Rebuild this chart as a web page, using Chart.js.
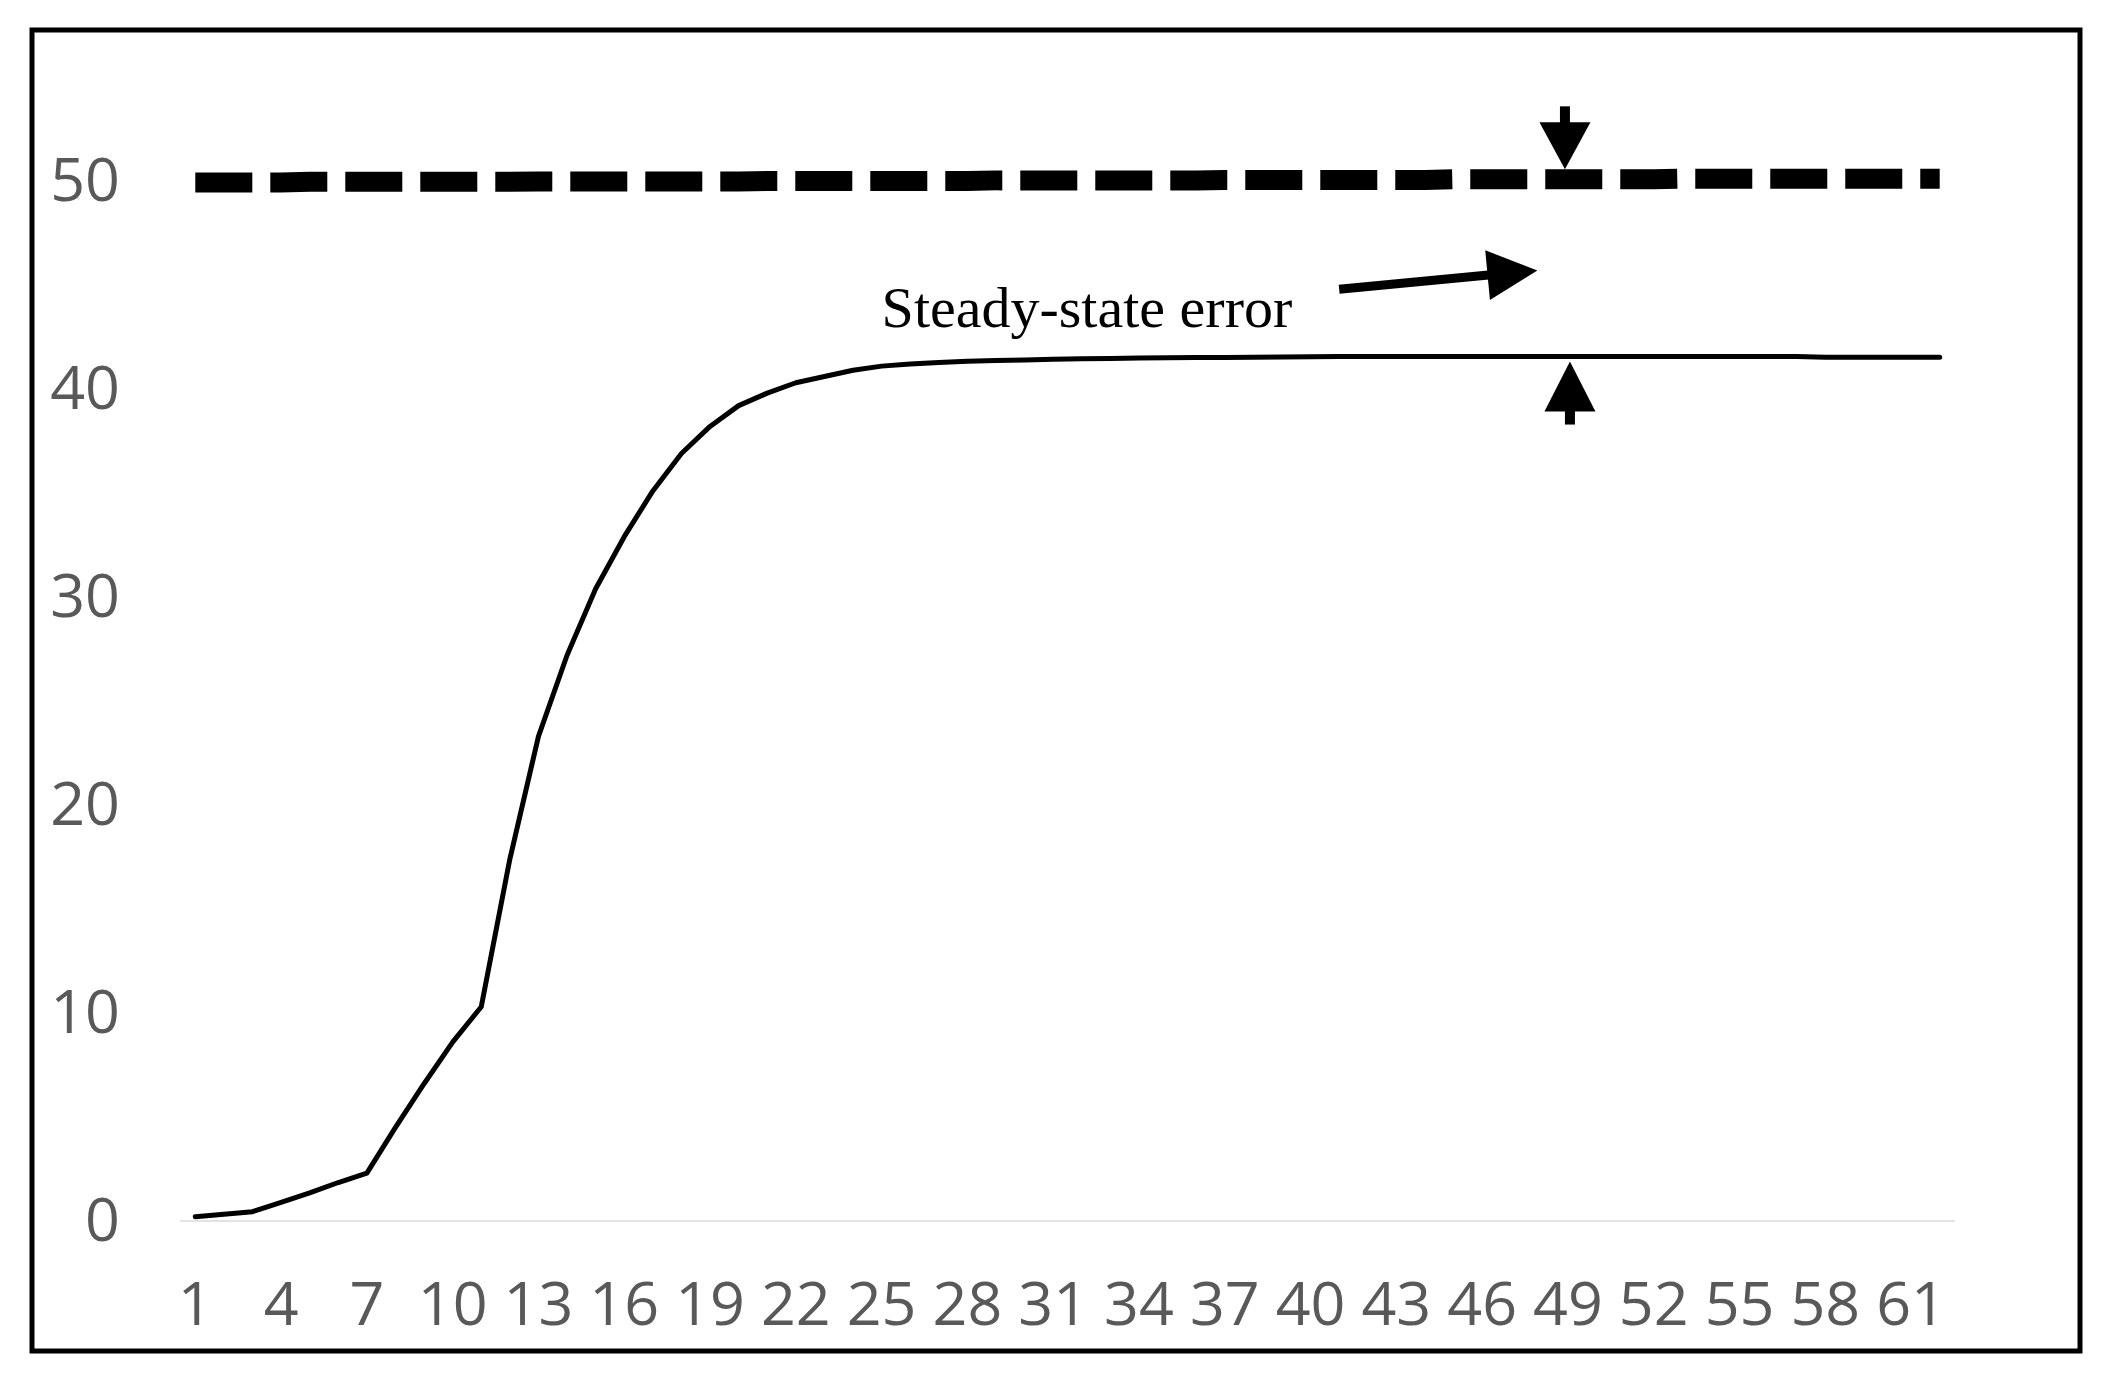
<!DOCTYPE html>
<html>
<head>
<meta charset="utf-8">
<style>
  html, body { margin: 0; padding: 0; background: #fff; }
  canvas { display: block; }
</style>
<script src="https://cdn.jsdelivr.net/npm/chart.js@4.4.1/dist/chart.umd.min.js"></script>
</head>
<body>
<canvas id="c" width="2117" height="1386"></canvas>
<script>
// ---- data ----
const categories = Array.from({length: 62}, (_, i) => String(i + 1));
const yTickValues = [0, 10, 20, 30, 40, 50];

const setpoint = [
  49.93, 49.93, 49.93, 49.93, 49.96, 49.96, 49.96, 49.96, 49.96, 49.96,
  49.96, 49.96, 49.98, 49.98, 49.98, 49.98, 49.98, 49.98, 49.98, 49.98,
  50.00, 50.00, 50.00, 50.00, 50.00, 50.00, 50.00, 50.00, 50.03, 50.03,
  50.03, 50.03, 50.03, 50.03, 50.03, 50.03, 50.05, 50.05, 50.05, 50.05,
  50.05, 50.05, 50.05, 50.05, 50.08, 50.08, 50.08, 50.08, 50.08, 50.08,
  50.08, 50.08, 50.11, 50.11, 50.11, 50.11, 50.11, 50.11, 50.11, 50.11,
  50.11, 50.11
];

const response = [
  0.20, 0.32, 0.45, 0.90, 1.35, 1.85, 2.30, 4.50, 6.60, 8.60,
  10.30, 17.40, 23.30, 27.20, 30.40, 32.90, 35.10, 36.90, 38.20, 39.20,
  39.80, 40.30, 40.60, 40.90, 41.10, 41.20, 41.27, 41.33, 41.37, 41.40,
  41.43, 41.45, 41.47, 41.49, 41.50, 41.51, 41.52, 41.53, 41.54, 41.55,
  41.56, 41.56, 41.56, 41.56, 41.56, 41.56, 41.56, 41.56, 41.56, 41.56,
  41.56, 41.56, 41.56, 41.56, 41.56, 41.56, 41.56, 41.53, 41.53, 41.53,
  41.53, 41.53
];

const noteText = 'Steady-state error';
const noteAt = [24, 43.0];            // [category index, value]
const noteArrowFrom = [40, 44.8];
const noteArrowTo = [47, 45.7];
const errorMarkerIndex = 48;          // category "49"

// ---- helpers ----
function drawArrow(ctx, x0, y0, x1, y1, shaftW, headLen, headHalf) {
  const dx = x1 - x0, dy = y1 - y0;
  const L = Math.hypot(dx, dy);
  const ux = dx / L, uy = dy / L;
  const nx = -uy, ny = ux;
  const bx = x1 - ux * headLen, by = y1 - uy * headLen;
  ctx.beginPath();
  ctx.lineWidth = shaftW;
  ctx.lineCap = 'butt';
  ctx.moveTo(x0, y0);
  ctx.lineTo(bx + ux * 1, by + uy * 1);
  ctx.stroke();
  ctx.beginPath();
  ctx.moveTo(x1, y1);
  ctx.lineTo(bx + nx * headHalf, by + ny * headHalf);
  ctx.lineTo(bx - nx * headHalf, by - ny * headHalf);
  ctx.closePath();
  ctx.fill();
}

const annotations = {
  id: 'annotations',
  afterDraw(chart) {
    const {ctx, scales: {x, y}} = chart;
    ctx.save();
    ctx.strokeStyle = '#000';
    ctx.fillStyle = '#000';
    // outer frame
    ctx.lineWidth = 5;
    ctx.strokeRect(32, 30, 2048, 1321);

    // text
    ctx.font = '58px "Liberation Serif", "Times New Roman", serif';
    ctx.textAlign = 'left';
    ctx.textBaseline = 'alphabetic';
    ctx.fillText(noteText, x.getPixelForValue(noteAt[0]), y.getPixelForValue(noteAt[1]));

    // diagonal arrow
    drawArrow(ctx,
      x.getPixelForValue(noteArrowFrom[0]), y.getPixelForValue(noteArrowFrom[1]),
      x.getPixelForValue(noteArrowTo[0]) - 2, y.getPixelForValue(noteArrowTo[1]),
      9, 50, 25);

    // down arrow onto setpoint line
    const xc = x.getPixelForValue(errorMarkerIndex);
    const tipDown = y.getPixelForValue(setpoint[errorMarkerIndex]) - 10;
    drawArrow(ctx, xc - 3, tipDown - 63, xc - 3, tipDown, 10, 47, 25.5);

    // up arrow onto response line
    const tipUp = y.getPixelForValue(response[errorMarkerIndex]) + 5;
    drawArrow(ctx, xc + 2, tipUp + 63, xc + 2, tipUp, 10, 50, 25.5);
    ctx.restore();
  }
};

const tickFont = { family: '"Open Sans", "Noto Sans", sans-serif', size: 61 };

new Chart(document.getElementById('c'), {
  type: 'line',
  data: {
    labels: categories,
    datasets: [
      {
        label: 'Setpoint',
        data: setpoint,
        borderColor: '#000',
        borderWidth: 20,
        borderDash: [57, 18],
        borderCapStyle: 'butt',
        pointRadius: 0,
        tension: 0,
        fill: false
      },
      {
        label: 'Response',
        data: response,
        borderColor: '#000',
        borderWidth: 5,
        borderCapStyle: 'round',
        borderJoinStyle: 'round',
        pointRadius: 0,
        tension: 0,
        fill: false
      }
    ]
  },
  options: {
    responsive: false,
    animation: false,
    devicePixelRatio: 1,
    layout: { autoPadding: false, padding: { left: 40, right: 163, top: 77, bottom: 0 } },
    plugins: {
      legend: { display: false },
      tooltip: { enabled: false }
    },
    scales: {
      x: {
        type: 'category',
        offset: true,
        grid: { display: false, drawTicks: false },
        border: { display: true, color: '#e3e3e3', width: 2 },
        ticks: {
          autoSkip: false,
          maxRotation: 0,
          minRotation: 0,
          padding: 50,
          color: '#595959',
          font: tickFont,
          callback: (v, i) => (i % 3 === 0 ? categories[i] : '')
        },
        afterFit: s => { s.height = 165; }
      },
      y: {
        min: 0,
        max: 55,
        grid: { display: false, drawTicks: true, tickLength: 61 },
        border: { display: false },
        ticks: {
          stepSize: 10,
          includeBounds: false,
          padding: 0,
          labelOffset: 3,
          color: '#595959',
          font: tickFont
        },
        afterBuildTicks: s => {
          s.ticks = yTickValues.map(v => ({ value: v }));
        },
        afterFit: s => { s.width = 141; }
      }
    }
  },
  plugins: [annotations]
});
</script>
</body>
</html>
